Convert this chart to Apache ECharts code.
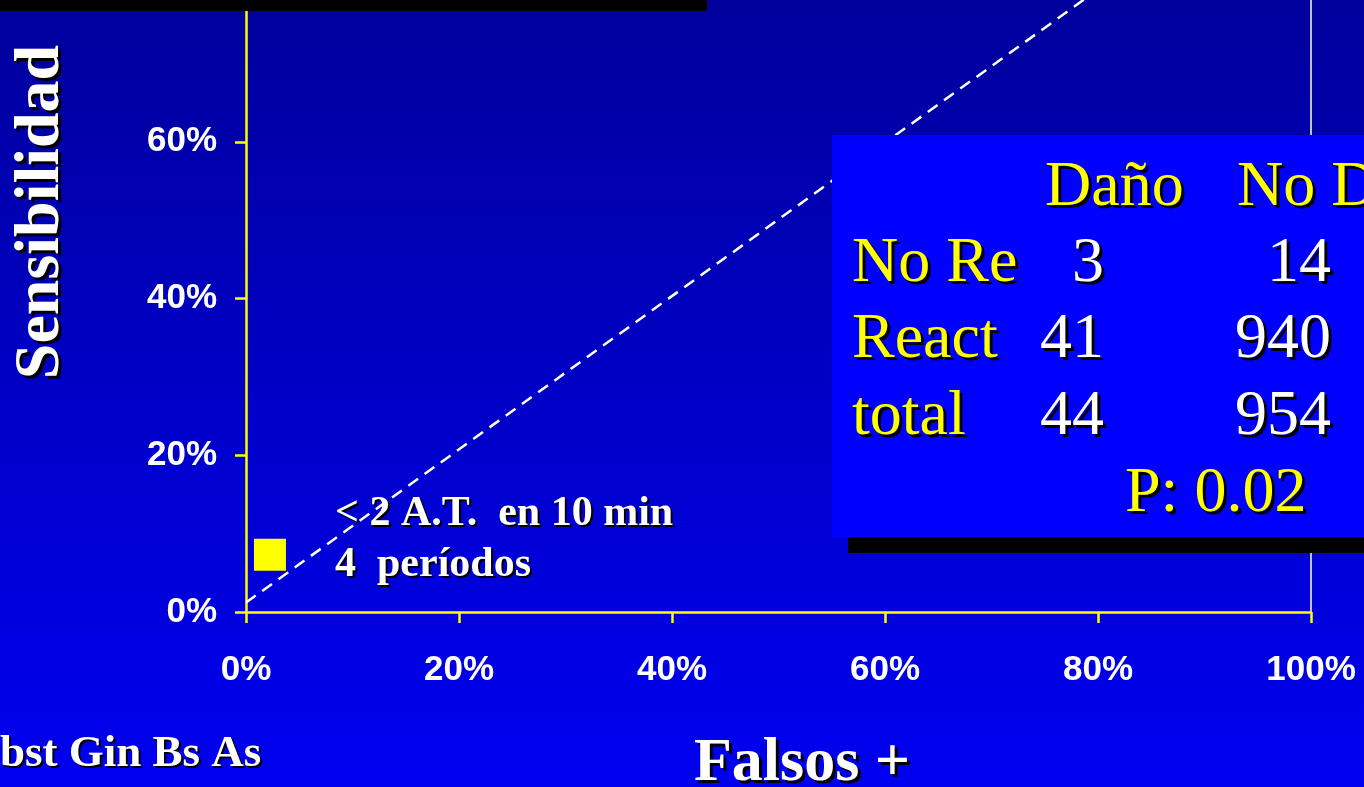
<!DOCTYPE html>
<html>
<head>
<meta charset="utf-8">
<script src="https://cdn.jsdelivr.net/npm/echarts@6/dist/echarts.min.js"></script>
<style>
  html, body { margin: 0; padding: 0; overflow: hidden; background: #0000c0; }
  #chart { width: 1364px; height: 787px; }
</style>
</head>
<body>
<div id="chart"></div>
<script>
// Sensitivity vs false positives for the "< 2 A.T. en 10 min, 4 períodos" criterion
const falsePositive = [0.0225];
const sensitivity = [0.073];

// Chance (no-discrimination) reference line
const refLineX = [0, 1];
const refLineY = [0.012, 0.99];

// Axis ticks (the plot is cut just below the 80% line)
const xTicks = [0, 0.2, 0.4, 0.6, 0.8, 1];
const yTicks = [0, 0.2, 0.4, 0.6];
const yTop = 0.781;

// 2x2 contingency table
const tableHeader = ['Daño', 'No Daño'];
const tableRows = ['No Re', 'React', 'total'];
const colDano = [3, 41, 44];
const colNoDano = [14, 940, 954];
const pValueText = 'P: 0.02';

const annotationLines = ['< 2 A.T.  en 10 min', '4  períodos'];
const xTitle = 'Falsos +';
const yTitle = 'Sensibilidad';
const footer = 'bst Gin Bs As';

const SERIF = '"Liberation Serif", "Times New Roman", serif';
const SANS = '"Liberation Sans", Arial, sans-serif';

// place text by its alphabetic baseline using middle alignment
function baseY(baseline, size) { return baseline - 0.31 * size; }

function txt(text, x, baseline, size, opts) {
  opts = opts || {};
  const sh = opts.sh || 3;
  return {
    type: 'text',
    z: 100,
    x: x,
    y: baseY(baseline, size),
    style: {
      text: text,
      x: 0, y: 0,
      font: (opts.bold ? 'bold ' : '') + size + 'px ' + SERIF,
      fill: opts.color || '#ffffff',
      align: opts.align || 'left',
      verticalAlign: 'middle',
      shadowColor: '#000000',
      shadowOffsetX: sh,
      shadowOffsetY: sh,
      shadowBlur: 0.01,
      textShadowColor: '#000000',
      textShadowOffsetX: sh,
      textShadowOffsetY: sh,
      textShadowBlur: 0.01
    }
  };
}

const chart = echarts.init(document.getElementById('chart'));

const graphics = [];
// black bar across the top
graphics.push({ type: 'rect', z: 100, shape: { x: 0, y: 0, width: 707, height: 11 }, style: { fill: '#000000' } });

// table panel with drop shadow
graphics.push({ type: 'rect', z: 100, shape: { x: 848, y: 151, width: 530, height: 402 }, style: { fill: '#000000' } });
graphics.push({ type: 'rect', z: 101, shape: { x: 832, y: 135, width: 540, height: 402 }, style: { fill: '#0000ff' } });

const TS = 64;
const rowBase = [284, 360, 437];
const tableEls = [];
tableEls.push(txt(tableHeader[0], 1045, 208, TS, { color: '#ffff00' }));
tableEls.push(txt(tableHeader[1], 1237, 208, TS, { color: '#ffff00' }));
tableRows.forEach((r, i) => {
  tableEls.push(txt(r, 852, rowBase[i], TS, { color: '#ffff00' }));
  tableEls.push(txt(String(colDano[i]), 1104, rowBase[i], TS, { color: '#ffffff', align: 'right' }));
  tableEls.push(txt(String(colNoDano[i]), 1331, rowBase[i], TS, { color: '#ffffff', align: 'right' }));
});
tableEls.push(txt(pValueText, 1125, 514, TS, { color: '#ffff00' }));
tableEls.forEach(e => { e.z = 102; graphics.push(e); });

// annotation next to the point
graphics.push(txt(annotationLines[0], 335, 527, 42, { bold: true, sh: 2 }));
graphics.push(txt(annotationLines[1], 335, 578, 42, { bold: true, sh: 2 }));

// axis titles and footer
graphics.push(txt(xTitle, 802, 783, 62, { bold: true, align: 'center' }));
const yT = txt(yTitle, 41, 0, 64, { bold: true, align: 'center' });
yT.x = 41; yT.y = 212; yT.rotation = Math.PI / 2;
graphics.push(yT);
graphics.push(txt(footer, 0, 768, 45, { bold: true, sh: 2 }));

const pct = v => Math.round(v * 100) + '%';

const option = {
  animation: false,
  backgroundColor: {
    type: 'linear', x: 0, y: 0, x2: 0, y2: 1,
    colorStops: [{ offset: 0, color: '#00009c' }, { offset: 1, color: '#0000f1' }]
  },
  grid: { left: 246, right: 53, bottom: 175, top: 0, show: false },
  xAxis: {
    type: 'value', min: xTicks[0], max: xTicks[xTicks.length - 1], interval: 0.2,
    axisLine: { show: true, lineStyle: { color: '#ffff00', width: 2.5 } },
    axisTick: { show: true, length: 11, lineStyle: { color: '#ffff00', width: 2.5 } },
    splitLine: { show: false },
    axisLabel: {
      color: '#ffffff', fontFamily: SANS, fontWeight: 'bold', fontSize: 35, margin: 41,
      formatter: pct
    }
  },
  yAxis: [
    {
      type: 'value', min: yTicks[0], max: yTop, interval: 0.2,
      axisLine: { show: true, lineStyle: { color: '#ffff00', width: 2.5 } },
      axisTick: { show: true, length: 11, lineStyle: { color: '#ffff00', width: 2.5 } },
      splitLine: { show: false },
      axisLabel: {
        color: '#ffffff', fontFamily: SANS, fontWeight: 'bold', fontSize: 35, margin: 29,
        showMaxLabel: false,
        formatter: v => (yTicks.some(t => Math.abs(t - v) < 1e-6) ? pct(v) : '')
      }
    },
    {
      type: 'value', position: 'right', min: yTicks[0], max: yTop,
      axisLine: { show: true, lineStyle: { color: '#c0c0c0', width: 2 } },
      axisTick: { show: false }, axisLabel: { show: false }, splitLine: { show: false }
    }
  ],
  series: [
    {
      type: 'line',
      data: refLineX.map((x, i) => [x, refLineY[i]]),
      symbol: 'none',
      clip: true,
      lineStyle: { color: '#ffffff', width: 2.5, type: [12, 8] },
      z: 3
    },
    {
      type: 'scatter',
      data: falsePositive.map((x, i) => [x, sensitivity[i]]),
      symbol: 'rect',
      symbolSize: 32,
      itemStyle: { color: '#ffff00', opacity: 1 },
      z: 4
    }
  ],
  graphic: graphics
};

chart.setOption(option);
</script>
</body>
</html>
